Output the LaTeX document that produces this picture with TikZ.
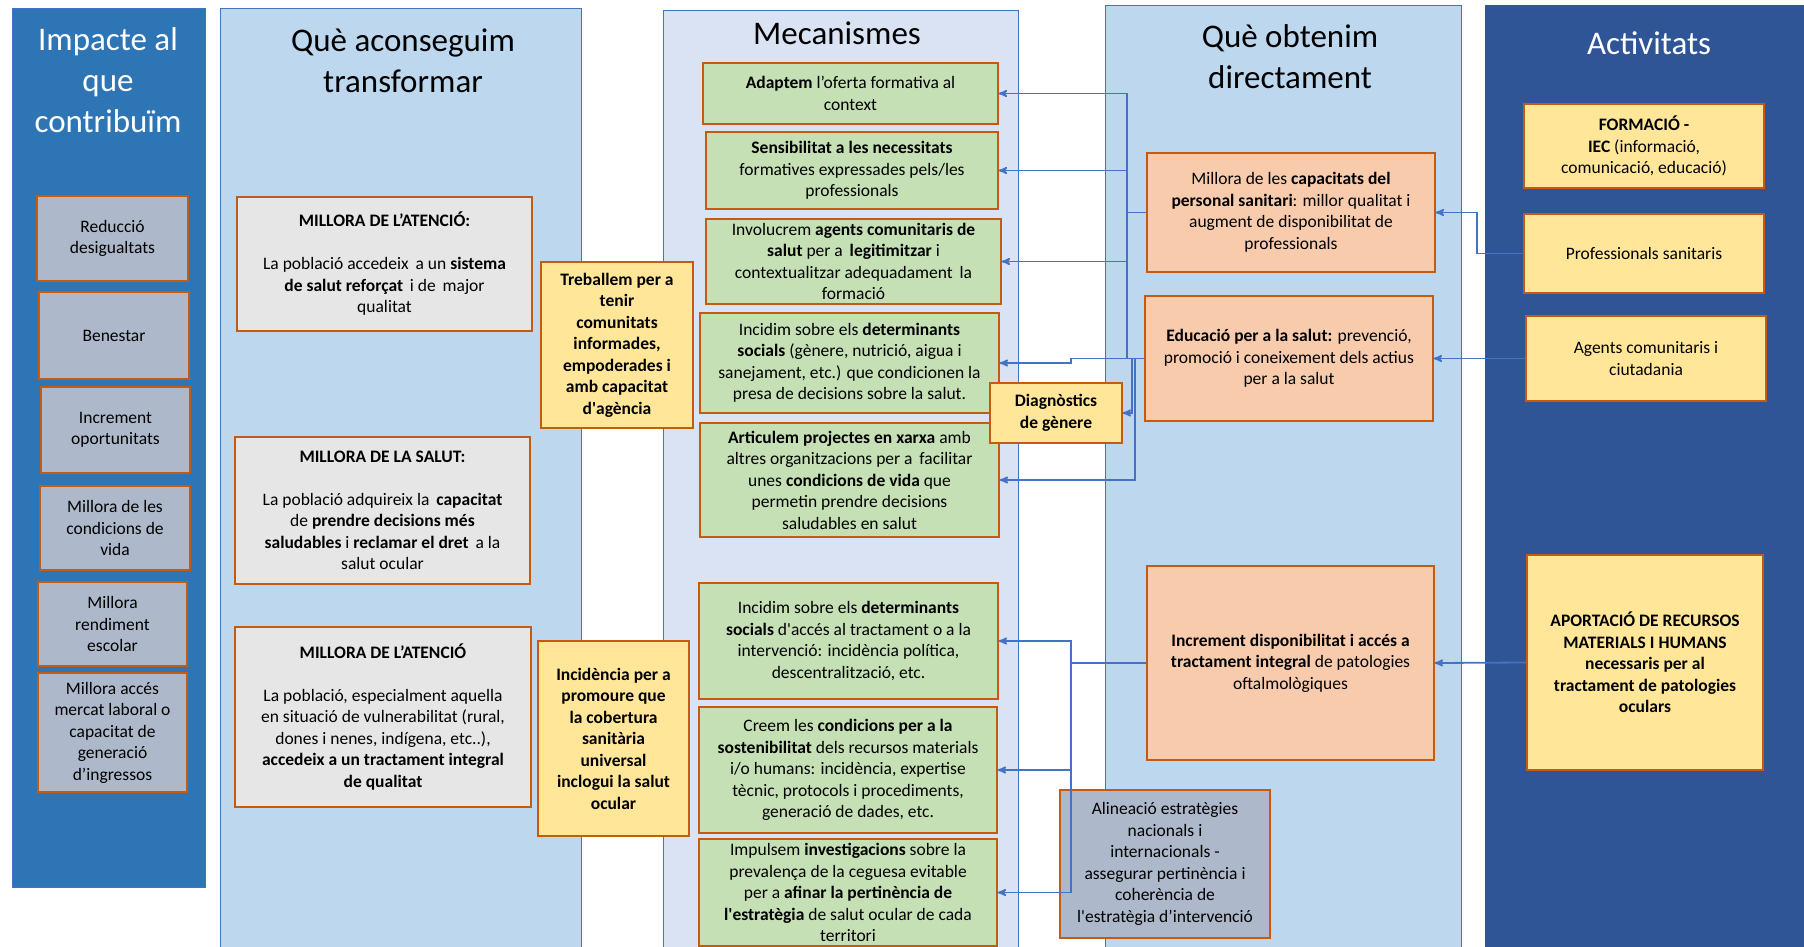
\documentclass[tikz,border=0pt]{standalone}
\usepackage{fontspec}
\setmainfont{Carlito}
\usetikzlibrary{arrows}

\definecolor{impblue}{HTML}{2E75B6}
\definecolor{lightblue}{HTML}{BDD7EE}
\definecolor{lavender}{HTML}{DAE3F3}
\definecolor{navy}{HTML}{2F5597}
\definecolor{frame}{HTML}{4472C4}
\definecolor{rust}{HTML}{C55A11}
\definecolor{slate}{HTML}{ADB9CA}
\definecolor{paper}{HTML}{E7E6E6}
\definecolor{butter}{HTML}{FFE699}
\definecolor{sage}{HTML}{C5E0B4}
\definecolor{peach}{HTML}{F8CBAD}

\begin{document}
\begin{tikzpicture}[x=1pt,y=-1pt,->,>=stealth',
                    font=\fontsize{17.5}{21.5}\selectfont]
  \tikzstyle{column}=[rectangle,draw=frame,line width=1.3pt,anchor=north west,inner sep=0pt]
  \tikzstyle{heading}=[font=\fontsize{33}{41}\selectfont,align=center]
  \tikzstyle{box}=[rectangle,draw=rust,line width=1.6pt,align=center,inner sep=2pt]
  \tikzstyle{impactbox}=[box,fill=slate]
  \tikzstyle{changebox}=[box,fill=paper]
  \tikzstyle{leverbox}=[box,fill=butter,font=\fontsize{17.5}{21.5}\selectfont\bfseries]
  \tikzstyle{mechbox}=[box,fill=sage]
  \tikzstyle{resultbox}=[box,fill=peach]
  \tikzstyle{link}=[draw=frame,line width=1.8pt]

  \useasboundingbox (0,0) rectangle (1804,947);
  \clip (0,0) rectangle (1804,947);
  \fill[white] (0,0) rectangle (1804,947);

  % columns
  \node[column,fill=impblue,minimum width=193pt,minimum height=879pt] (IMP) at (12,8) {};
  \node[column,fill=lightblue,minimum width=361pt,minimum height=950pt] (TRA) at (220,8) {};
  \node[column,fill=lavender,minimum width=355pt,minimum height=950pt] (MEC) at (663,10) {};
  \node[column,fill=lightblue,minimum width=356pt,minimum height=950pt] (OBT) at (1105,5) {};
  \node[column,fill=navy,draw=navy,minimum width=330pt,minimum height=950pt] (ACT) at (1485,5) {};

  \node[heading,text=white] (HI) at (108,80)  {Impacte al\\que\\contribuïm};
  \node[heading]            (HT) at (403,61)  {Què aconseguim\\transformar};
  \node[heading]            (HM) at (837,33)  {Mecanismes};
  \node[heading]            (HO) at (1290,57) {Què obtenim\\directament};
  \node[heading,text=white] (HA) at (1649,43) {Activitats};

  % impacte
  \node[impactbox,minimum width=151pt,minimum height=85pt]  (RD) at (112.5,238.5) {Reducció\\desigualtats};
  \node[impactbox,minimum width=150pt,minimum height=87pt]  (BN) at (114,335.5)   {Benestar};
  \node[impactbox,minimum width=149pt,minimum height=86pt]  (IO) at (115.5,430)   {Increment\\oportunitats};
  \node[impactbox,minimum width=150pt,minimum height=84pt]  (CV) at (115,528)     {Millora de les\\condicions de\\vida};
  \node[impactbox,minimum width=149pt,minimum height=84pt]  (RE) at (112.5,624)   {Millora\\rendiment\\escolar};
  \node[impactbox,minimum width=149pt,minimum height=119pt] (ML) at (112.5,732.5) {Millora accés\\mercat laboral o\\capacitat de\\generació\\d’ingressos};

  % transformar
  \node[changebox,minimum width=295pt,minimum height=134pt] (MA1) at (384.5,264)
    {\textbf{MILLORA DE L’ATENCIÓ:}\\[21.5pt]La població accedeix \,a un \textbf{sistema}\\\textbf{de salut reforçat} \,i de \,major\\qualitat};
  \node[changebox,minimum width=295pt,minimum height=147pt] (MS) at (382.5,510.5)
    {\textbf{MILLORA DE LA SALUT:}\\[21.5pt]La població adquireix la \,\textbf{capacitat}\\de \textbf{prendre decisions més}\\\textbf{saludables} i \textbf{reclamar el dret} \,a la\\salut ocular};
  \node[changebox,minimum width=296pt,minimum height=180pt] (MA2) at (383,717)
    {\textbf{MILLORA DE L’ATENCIÓ}\\[21.5pt]La població, especialment aquella\\en situació de vulnerabilitat (rural,\\dones i nenes, indígena, etc..),\\\textbf{accedeix a un tractament integral}\\\textbf{de qualitat}};

  \node[leverbox,minimum width=152pt,minimum height=166pt] (TC) at (617,345)
    {Treballem per a\\tenir\\comunitats\\informades,\\empoderades i\\amb capacitat\\d\textquotesingle agència};
  \node[leverbox,minimum width=151pt,minimum height=195pt] (IC) at (613.5,738.5)
    {Incidència per a\\promoure que\\la cobertura\\sanitària\\universal\\inclogui la salut\\ocular};

  % mecanismes
  \node[mechbox,minimum width=295pt,minimum height=61pt]  (AO) at (850.5,93.5)
    {\textbf{Adaptem} l’oferta formativa al\\context};
  \node[mechbox,minimum width=292pt,minimum height=77pt]  (SN) at (852,170.5)
    {\textbf{Sensibilitat a les necessitats}\\formatives expressades pels/les\\professionals};
  \node[mechbox,minimum width=295pt,minimum height=85pt]  (AC) at (853.5,261.5)
    {Involucrem \textbf{agents comunitaris de}\\\textbf{salut} per a \,\textbf{legitimitzar} i\\contextualitzar adequadament \,la\\formació};
  \node[mechbox,minimum width=299pt,minimum height=100pt] (DS) at (849.5,363)
    {Incidim sobre els \textbf{determinants}\\\textbf{socials} (gènere, nutrició, aigua i\\sanejament, etc.) que condicionen la\\presa de decisions sobre la salut.};
  \node[mechbox,minimum width=299pt,minimum height=114pt] (PX) at (849.5,480)
    {\textbf{Articulem projectes en xarxa} amb\\altres organitzacions per a \,facilitar\\unes \textbf{condicions de vida} que\\permetin prendre decisions\\saludables en salut};
  \node[mechbox,minimum width=299pt,minimum height=116pt] (DA) at (848.5,641)
    {Incidim sobre els \textbf{determinants}\\\textbf{socials} d\textquotesingle accés al tractament o a la\\intervenció: incidència política,\\descentralització, etc.};
  \node[mechbox,minimum width=298pt,minimum height=126pt] (CS) at (848,770)
    {Creem les \textbf{condicions per a la}\\\textbf{sostenibilitat} dels recursos materials\\i/o humans: incidència, expertise\\tècnic, protocols i procediments,\\generació de dades, etc.};
  \node[mechbox,minimum width=298pt,minimum height=107pt] (IV) at (848,892.5)
    {Impulsem \textbf{investigacions} sobre la\\prevalença de la ceguesa evitable\\per a \textbf{afinar la pertinència de}\\\textbf{l\textquotesingle estratègia} de salut ocular de cada\\territori};

  \node[leverbox,minimum width=132pt,minimum height=60pt] (DG) at (1056,413) {Diagnòstics\\de gènere};

  % que obtenim
  \node[resultbox,minimum width=288pt,minimum height=119pt] (CP) at (1291,212.5)
    {Millora de les \textbf{capacitats del}\\\textbf{personal sanitari}: millor qualitat i\\augment de disponibilitat de\\professionals};
  \node[resultbox,minimum width=288pt,minimum height=125pt] (ES) at (1289,358.5)
    {\textbf{Educació per a la salut:} prevenció,\\promoció i coneixement dels actius\\per a la salut};
  \node[resultbox,minimum width=287pt,minimum height=194pt] (ID) at (1290.5,663)
    {\textbf{Increment disponibilitat i accés a}\\\textbf{tractament integral} de patologies\\oftalmològiques};
  \node[impactbox,minimum width=210pt,minimum height=148pt] (AE) at (1165,864)
    {Alineació estratègies\\nacionals i\\internacionals -\\assegurar pertinència i\\coherència de\\l\textquotesingle estratègia d’intervenció};

  % activitats
  \node[leverbox,font=\fontsize{17.5}{21.5}\selectfont,minimum width=240pt,minimum height=84pt] (FI) at (1644,146)
    {\textbf{FORMACIÓ -}\\\textbf{IEC} (informació,\\comunicació, educació)};
  \node[leverbox,font=\fontsize{17.5}{21.5}\selectfont,minimum width=240pt,minimum height=79pt] (PS) at (1644,253.5)
    {Professionals sanitaris};
  \node[leverbox,font=\fontsize{17.5}{21.5}\selectfont,minimum width=240pt,minimum height=85pt] (CI) at (1646,358.5)
    {Agents comunitaris i\\ciutadania};
  \node[leverbox,minimum width=236pt,minimum height=215pt] (RM) at (1645,662.5)
    {APORTACIÓ DE RECURSOS\\MATERIALS I HUMANS\\necessaris per al\\tractament de patologies\\oculars};

  % connexions
  \draw[link] (CP.west) -- ++(-19,0) |- (AO.east);
  \draw[link] (CP.west) -- ++(-19,0) |- (SN.east);
  \draw[link] (CP.west) -- ++(-19,0) |- (AC.east);
  \draw[link,-] (ES.west) -- ++(-17,0) |- (CP.west);
  \draw[link] (ES.west) -- ++(-73,0) -- ++(0,4.5) -- (DS.east);
  \draw[link] (ES.west) -- ++(-12,0) |- (DG.east);
  \draw[link] (ES.west) -- ++(-9,0) |- (PX.east);
  \draw[link] (ID.west) -- ++(-75,0) |- (DA.east);
  \draw[link] (ID.west) -- ++(-75,0) |- (CS.east);
  \draw[link] (ID.west) -- ++(-75,0) |- (IV.east);
  \draw[link] (PS.west) -- ++(-46,0) |- (CP.east);
  \draw[link] (CI.west) -- (ES.east);
  \draw[link] (RM.west) -- (ID.east);

\end{tikzpicture}
\end{document}
